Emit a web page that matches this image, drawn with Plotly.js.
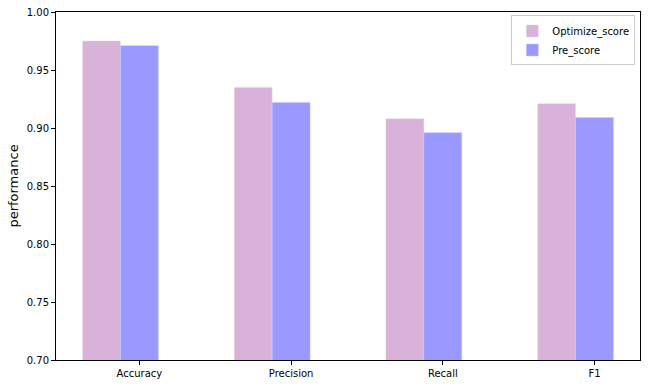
<!DOCTYPE html>
<html>
<head>
<meta charset="utf-8">
<script src="https://cdn.plot.ly/plotly-3.0.1.min.js"></script>
<style>html,body{margin:0;padding:0;background:#fff;}#chart{width:648px;height:386px;}</style>
</head>
<body>
<div id="chart"></div>
<script>
const categories = ["Accuracy", "Precision", "Recall", "F1"];
const positions = [0, 1, 2, 3];
const optimizeScore = [0.975, 0.935, 0.908, 0.921];
const preScore = [0.971, 0.922, 0.896, 0.909];
const yTicks = [0.70, 0.75, 0.80, 0.85, 0.90, 0.95, 1.00];

const traces = [
  {type: "bar", name: "Optimize_score", x: positions, y: optimizeScore,
   width: 0.25, offset: -0.375, marker: {color: "#D9B2D9", line: {color: "#ead6ea", width: 0.5}}},
  {type: "bar", name: "Pre_score", x: positions, y: preScore,
   width: 0.25, offset: -0.125, marker: {color: "#9999FF", line: {color: "#c8c8ff", width: 0.5}}}
];

const layout = {
  width: 648, height: 386,
  margin: {l: 56, r: 8, t: 12, b: 26},
  paper_bgcolor: "#fff", plot_bgcolor: "#fff",
  font: {family: "DejaVu Sans", size: 10, color: "#000"},
  barmode: "overlay",
  showlegend: true,
  legend: {x: 0.992, y: 0.99, xanchor: "right", yanchor: "top",
    bgcolor: "rgba(255,255,255,0.8)", bordercolor: "#cccccc", borderwidth: 1,
    font: {size: 10}, tracegroupgap: 0, itemwidth: 30},
  xaxis: {range: [-0.55, 3.3], tickmode: "array", tickvals: positions, ticktext: categories,
    showline: true, mirror: true, linecolor: "#000", linewidth: 1,
    ticks: "outside", ticklen: 4, tickcolor: "#000", showgrid: false, zeroline: false},
  yaxis: {range: [0.70, 1.00], tickmode: "array", tickvals: yTicks,
    ticktext: yTicks.map(v => v.toFixed(2)),
    showline: true, mirror: true, linecolor: "#000", linewidth: 1,
    ticks: "outside", ticklen: 4, tickcolor: "#000", showgrid: false, zeroline: false,
    title: {text: "performance", font: {size: 13}, standoff: 5}}
};

Plotly.newPlot("chart", traces, layout, {staticPlot: true, displayModeBar: false});
</script>
</body>
</html>
